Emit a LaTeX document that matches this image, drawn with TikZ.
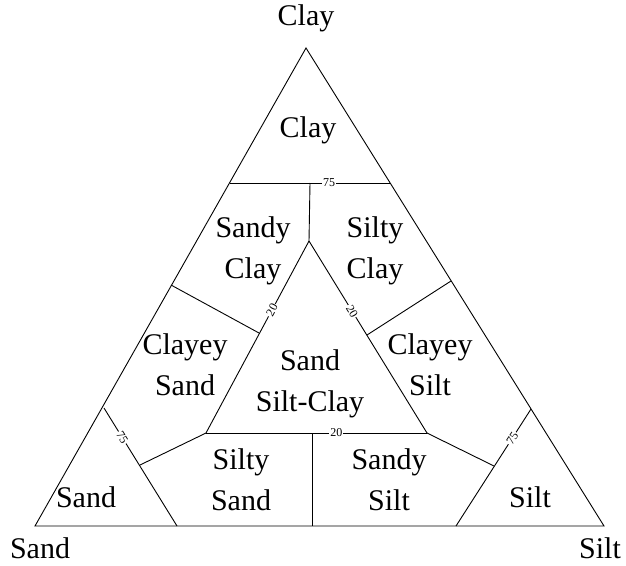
\documentclass[tikz,border=0pt]{standalone}
\usepackage{fontspec}
\setmainfont{Liberation Serif}

\begin{document}
\begin{tikzpicture}[x=1pt,y=-1pt,
    edge/.style={line width=0.9pt},
    pct/.style={font=\fontsize{12}{12}\selectfont, fill=white, inner sep=1pt, sloped},
    region/.style={font=\fontsize{30}{41}\selectfont, align=center, inner sep=0pt}]
  \useasboundingbox (0,0) rectangle (626,565);
  % corners
  \coordinate (sand) at (35,526);
  \coordinate (silt) at (604,526);
  \coordinate (clay) at (306,48);
  % cut points
  \coordinate (c75l) at (230,183);
  \coordinate (c75r) at (390,183);
  \coordinate (c75m) at (310,183);
  \coordinate (top) at (309,241);
  \coordinate (bl) at (206,433);
  \coordinate (br) at (427,433);
  \coordinate (bm) at (312,433);
  \coordinate (bm0) at (312,526);
  \coordinate (scl) at (171,285);
  \coordinate (sci) at (259,333);
  \coordinate (scr) at (451,281);
  \coordinate (sci2) at (367,335);
  \coordinate (s75a) at (104,408);
  \coordinate (s75b) at (177,526);
  \coordinate (s75m) at (140,465);
  \coordinate (t75a) at (531,409);
  \coordinate (t75b) at (456,526);
  \coordinate (t75m) at (494,466);

  \draw[edge] (sand) -- (silt) -- (clay) -- cycle;
  \draw[edge] (c75l) -- node[pct, pos=0.62] {75} (c75r);
  \draw[edge] (c75m) -- (top);
  \draw[edge] (bl) -- node[pct, pos=0.64] {20} (top);
  \draw[edge] (top) -- node[pct, pos=0.365] {20} (br);
  \draw[edge] (bl) -- node[pct, pos=0.59] {20} (br);
  \draw[edge] (bm) -- (bm0);
  \draw[edge] (scl) -- (sci);
  \draw[edge] (scr) -- (sci2);
  \draw[edge] (s75a) -- node[pct, pos=0.25] {75} (s75b);
  \draw[edge] (bl) -- (s75m);
  \draw[edge] (t75a) -- node[pct, pos=0.25] {75} (t75b);
  \draw[edge] (br) -- (t75m);

  % corner names
  \node[region] (nclay) at (306,18) {Clay};
  \node[region] (nsand) at (40,548) {Sand};
  \node[region] (nsilt) at (600,548) {Silt};

  % regions
  \node[region] (rclay) at (308,130) {Clay};
  \node[region] (rsandyclay) at (253,251) {Sandy\\Clay};
  \node[region] (rsiltyclay) at (375,251) {Silty\\Clay};
  \node[region] (rclayeysand) at (185,365) {Clayey\\Sand};
  \node[region] (rmix) at (310,384) {Sand\\Silt-Clay};
  \node[region] (rclayeysilt) at (430,365) {Clayey\\Silt};
  \node[region] (rsiltysand) at (241,480) {Silty\\Sand};
  \node[region] (rsandysilt) at (389,480) {Sandy\\Silt};
  \node[region] (rsand) at (86,497) {Sand};
  \node[region] (rsilt) at (530,497) {Silt};
\end{tikzpicture}
\end{document}
